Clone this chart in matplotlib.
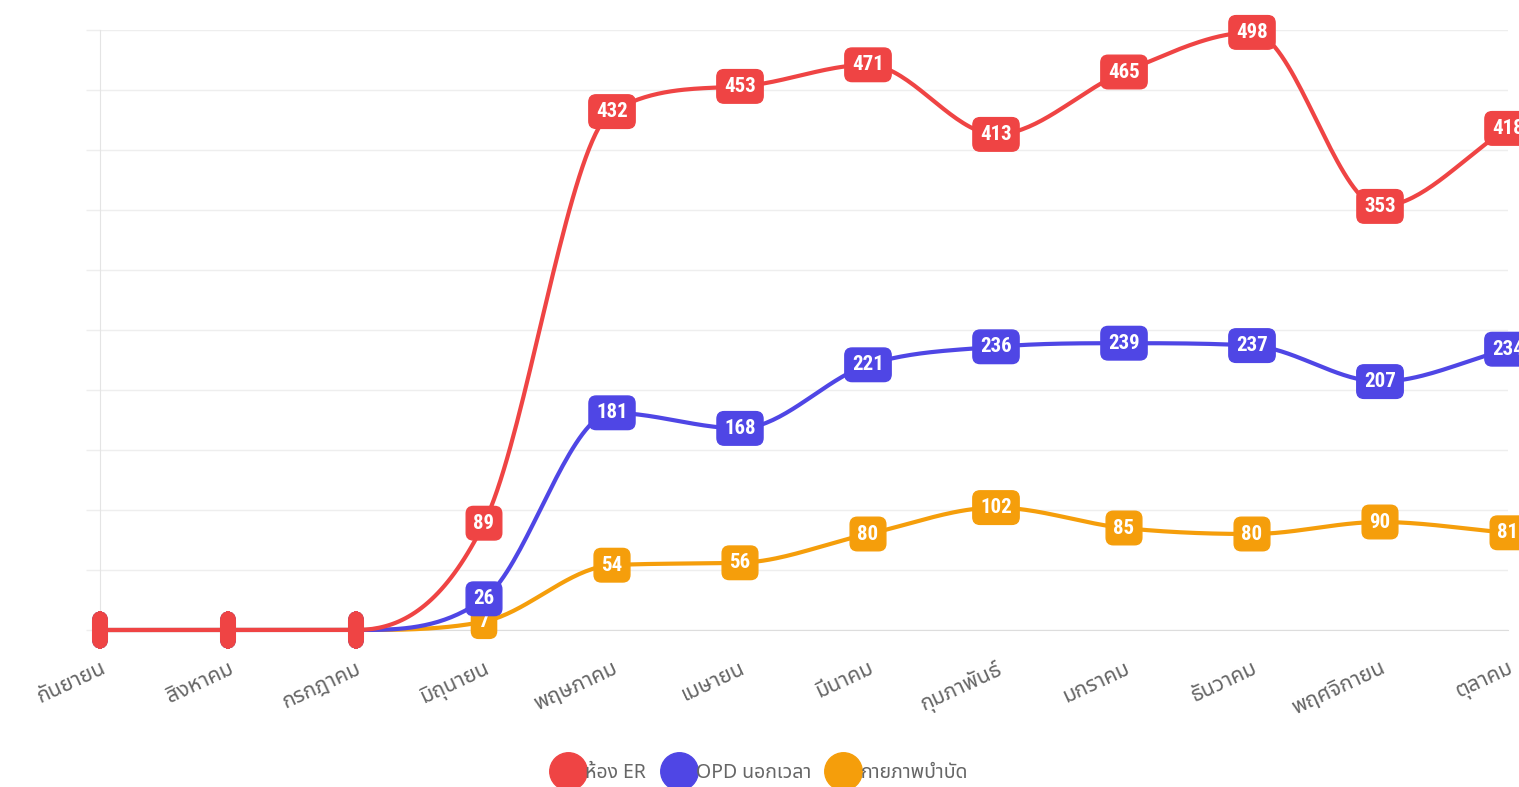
import numpy as np
import matplotlib
matplotlib.use("Agg")
import matplotlib.pyplot as plt
from matplotlib import font_manager
from matplotlib.ft2font import FT2Font
from matplotlib.lines import Line2D

months = ["กันยายน", "สิงหาคม", "กรกฎาคม", "มิถุนายน", "พฤษภาคม", "เมษายน",
          "มีนาคม", "กุมภาพันธ์", "มกราคม", "ธันวาคม", "พฤศจิกายน", "ตุลาคม"]
er = [0, 0, 0, 89, 432, 453, 471, 413, 465, 498, 353, 418]
opd = [0, 0, 0, 26, 181, 168, 221, 236, 239, 237, 207, 234]
physio = [0, 0, 0, 7, 54, 56, 80, 102, 85, 80, 90, 81]
series_names = ["ห้อง ER", "OPD นอกเวลา", "กายภาพบำบัด"]
colors = ["#EF4444", "#4F46E5", "#F59E0B"]


def find_family(ch, prefer=()):
    names = {f.name for f in font_manager.fontManager.ttflist}
    for p in prefer:
        if p in names:
            return p
    for f in font_manager.fontManager.ttflist:
        try:
            if ord(ch) in FT2Font(f.fname).get_charmap():
                return f.name
        except Exception:
            pass
    return "DejaVu Sans"


thai = find_family("ก", prefer=("Noto Sans Thai", "Noto Sans Thai UI", "Loma", "Garuda"))
narrow = find_family("1", prefer=("Liberation Sans Narrow", "Roboto Condensed", "Roboto"))
plt.rcParams["font.family"] = [thai, "DejaVu Sans"]


def monotone(x, y, n=40):
    # Fritsch-Carlson monotone cubic, same idea as chart.js "monotone"
    x = np.asarray(x, float)
    y = np.asarray(y, float)
    d = np.diff(y) / np.diff(x)
    m = np.zeros_like(y)
    m[0], m[-1] = d[0], d[-1]
    for i in range(1, len(y) - 1):
        if d[i - 1] * d[i] <= 0:
            m[i] = 0
        else:
            m[i] = (d[i - 1] + d[i]) / 2
    for i in range(len(d)):
        if d[i] == 0:
            m[i] = m[i + 1] = 0
            continue
        a, b = m[i] / d[i], m[i + 1] / d[i]
        s = a * a + b * b
        if s > 9:
            t = 3 / np.sqrt(s)
            m[i], m[i + 1] = t * a * d[i], t * b * d[i]
    xs, ys = [], []
    for i in range(len(d)):
        h = x[i + 1] - x[i]
        t = np.linspace(0, 1, n)
        h00 = 2 * t**3 - 3 * t**2 + 1
        h10 = t**3 - 2 * t**2 + t
        h01 = -2 * t**3 + 3 * t**2
        h11 = t**3 - t**2
        xs.append(x[i] + t * h)
        ys.append(h00 * y[i] + h10 * h * m[i] + h01 * y[i + 1] + h11 * h * m[i + 1])
    return np.concatenate(xs), np.concatenate(ys)


fig = plt.figure(figsize=(15.19, 7.87), dpi=100)
ax = fig.add_axes([100 / 1519, 157 / 787, 1408 / 1519, 600 / 787])
x = np.arange(len(months))

data = [er, opd, physio]
for k in range(2, -1, -1):
    xs, ys = monotone(x, data[k])
    ax.plot(xs, ys, color=colors[k], lw=3, zorder=3 + (2 - k) * 0.1,
            solid_capstyle="round", clip_on=False)

# data labels (first series on top)
for k in range(2, -1, -1):
    for xi, v in zip(x, data[k]):
        if v:
            ax.text(xi, v, str(v), ha="center", va="center", color="white",
                    fontsize=15, fontweight="bold", family=[narrow, "DejaVu Sans"],
                    zorder=10 - k, clip_on=False,
                    bbox=dict(boxstyle="round,pad=0.35,rounding_size=0.35",
                              fc=colors[k], ec=colors[k], lw=1))
        else:
            ax.text(xi, v, " ", ha="center", va="center", fontsize=21,
                    zorder=10 - k, clip_on=False,
                    bbox=dict(boxstyle="round,pad=0.12,rounding_size=0.3",
                              fc=colors[k], ec=colors[k], lw=1))

ax.set_xlim(0, len(months) - 1)
ax.set_ylim(0, 500)
ax.set_yticks(np.arange(0, 501, 50))
ax.set_yticklabels([])
ax.tick_params(axis="y", length=10, color="#eeeeee", width=1)
ax.set_xticks(x)
ax.set_xticklabels(months, rotation=25, ha="right", rotation_mode="anchor",
                   color="#666666", fontsize=15.5)
ax.tick_params(axis="x", length=0, pad=20)
ax.grid(axis="y", color="#eeeeee", lw=1)
ax.grid(axis="x", visible=False)
for s in ["top", "right"]:
    ax.spines[s].set_visible(False)
ax.spines["left"].set_color("#e4e4e4")
ax.spines["bottom"].set_color("#dddddd")
ax.set_axisbelow(True)

handles = [Line2D([], [], ls="", marker="o", ms=27, mfc=c, mec=c) for c in colors]
fig.legend(handles, series_names, loc="lower center", ncol=3, frameon=False,
           bbox_to_anchor=(0.5, -0.017), handlelength=1.75, handletextpad=0.0,
           columnspacing=0.8, labelcolor="#666666", fontsize=14)

fig.savefig("out.png", dpi=100)
